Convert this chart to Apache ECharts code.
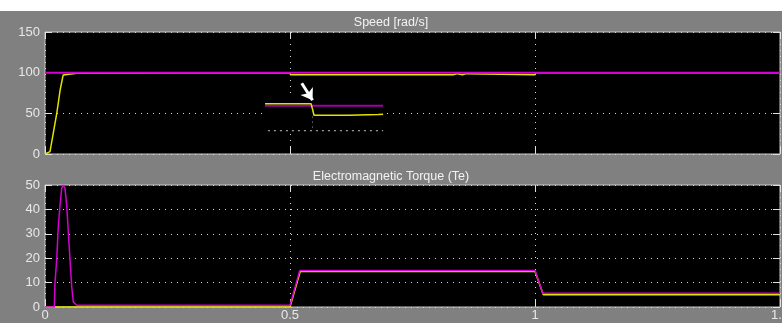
<!DOCTYPE html>
<html>
<head>
<meta charset="utf-8">
<script src="https://cdn.jsdelivr.net/npm/echarts@6/dist/echarts.min.js"></script>
<style>
html,body{margin:0;padding:0;background:#fff;}
#c{width:782px;height:323px;}
</style>
</head>
<body>
<div id="c"></div>
<script>
// ---- data ----
var xTicks = [0, 0.5, 1, 1.5];
var speedTitle = 'Speed [rad/s]';
var torqueTitle = 'Electromagnetic Torque (Te)';

// speed (yellow) measured
var speedT = [0, 0.004, 0.0102, 0.017, 0.024, 0.031, 0.037, 0.041, 0.065, 0.068, 0.5, 0.501, 0.833, 0.834, 0.842, 0.843, 0.852, 0.853, 0.86, 0.861, 1.0, 1.001, 1.5];
var speedW = [0, 0.5, 3, 26, 50, 79, 97, 99.2, 99.2, 100, 100, 97.5, 97.5, 98.8, 98.8, 97.5, 97.5, 98.8, 98.8, 97.5, 97.5, 100, 100];
// speed reference (magenta)
var refT = [0, 1.5];
var refW = [100, 100];
// pasted inset inside the speed plot
var insetT = [0.449, 0.543, 0.546, 0.549, 0.56, 0.62, 0.68, 0.69];
var insetW = [61.8, 61.8, 55, 47.6, 47.6, 47.6, 48.5, 49];
var insetRefT = [0.449, 0.69];
var insetRefW = [59.4, 59.4];
var insetGridT = [0.455, 0.69];
var insetGridW = [28.7, 28.7];
var insetVT = [0.546, 0.546];
var insetVW = [46, 28.7];
var insetBox = [[0.443, 70], [0.694, 25.8]];
var arrowFrom = [0.524, 87];
var arrowTo = [0.546, 66];

// torque (magenta)
var teT = [0, 0.019, 0.0204, 0.0239, 0.0271, 0.0306, 0.0341, 0.0373, 0.0408, 0.0443, 0.0476, 0.051, 0.0545, 0.0578, 0.0647, 0.5, 0.52, 1.0, 1.016, 1.5];
var teW = [0, 0, 10, 19.5, 33, 41.7, 48.6, 50, 48.6, 41.7, 30.6, 19.5, 8.3, 2, 0.7, 0.7, 15, 15, 5.6, 5.6];
// torque load (yellow)
var tlT = [0, 0.5, 0.521, 1.0, 1.017, 1.5];
var tlW = [0, 0, 14.6, 14.6, 5.0, 5.0];

function pairs(t, v) { return t.map(function (x, i) { return [x, v[i]]; }); }

var YEL = '#e2e200', MAG = '#d400d4', TXT = '#e8e8e8', FONT = 'Liberation Sans, Arial, sans-serif';
function gridOpt(top) {
  return { show: true, backgroundColor: '#000', borderColor: '#c8c8c8', borderWidth: 1,
    left: 45, right: 2, top: top, height: 122, containLabel: false, outerBoundsMode: 'none' };
}
function split(on) { return { show: on, lineStyle: { color: '#d8d8d8', type: [1, 5], width: 1 } }; }
function tick() { return { show: true, inside: true, length: 7, lineStyle: { color: '#e0e0e0', width: 1 } }; }

function xAx(gi, pos, labels, spl) {
  return { type: 'value', gridIndex: gi, position: pos, min: 0, max: 1.5, interval: 0.5,
    axisLine: { show: false, onZero: false }, axisTick: tick(), splitLine: split(spl),
    axisLabel: { show: labels, inside: false, color: TXT, fontSize: 13, fontFamily: FONT, margin: 2,
      formatter: function (v) { return String(v); } } };
}
function yAx(gi, pos, max, iv, labels, spl) {
  return { type: 'value', gridIndex: gi, position: pos, min: 0, max: max, interval: iv,
    axisLine: { show: false, onZero: false }, axisTick: tick(), splitLine: split(spl),
    axisLabel: { show: labels, inside: false, color: TXT, fontSize: 13, fontFamily: FONT, margin: 5 } };
}

var chart = echarts.init(document.getElementById('c'), null, { renderer: 'canvas' });
chart.setOption({
  animation: false,
  backgroundColor: '#808080',
  graphic: [
    { type: 'rect', left: 0, top: 0, shape: { width: 782, height: 11 }, style: { fill: '#fff' }, z: 100 }
  ],
  title: [
    { text: speedTitle, left: 'center', top: 16, textStyle: { color: '#f2f2f2', fontSize: 12.5, fontWeight: 'normal', fontFamily: FONT }, padding: 0 },
    { text: torqueTitle, left: 'center', top: 170, textStyle: { color: '#f2f2f2', fontSize: 12.5, fontWeight: 'normal', fontFamily: FONT }, padding: 0 }
  ],
  grid: [gridOpt(32), gridOpt(185)],
  xAxis: [xAx(0, 'bottom', false, true), xAx(0, 'top', false, false), xAx(1, 'bottom', true, true), xAx(1, 'top', false, false)],
  yAxis: [yAx(0, 'left', 150, 50, true, true), yAx(0, 'right', 150, 50, false, false),
          yAx(1, 'left', 50, 10, true, true), yAx(1, 'right', 50, 10, false, false)],
  series: [
    { type: 'line', xAxisIndex: 0, yAxisIndex: 0, data: pairs(insetGridT, insetGridW), symbol: 'none',
      lineStyle: { color: '#9a9a9a', width: 1, type: [2, 4] },
      markArea: { silent: true, itemStyle: { color: '#000' },
        data: [[{ coord: insetBox[0] }, { coord: insetBox[1] }]] } },
    { type: 'line', xAxisIndex: 0, yAxisIndex: 0, data: pairs(insetGridT, insetGridW), symbol: 'none',
      lineStyle: { color: '#9a9a9a', width: 1, type: [2, 4] } },
    { type: 'line', xAxisIndex: 0, yAxisIndex: 0, data: pairs(insetVT, insetVW), symbol: 'none',
      lineStyle: { color: '#a0a0a0', width: 1, type: [1, 4] } },
    { type: 'line', xAxisIndex: 0, yAxisIndex: 0, data: pairs(speedT, speedW), symbol: 'none',
      lineStyle: { color: YEL, width: 1.5 } },
    { type: 'line', xAxisIndex: 0, yAxisIndex: 0, data: pairs(refT, refW), symbol: 'none',
      lineStyle: { color: MAG, width: 2 } },
    { type: 'line', xAxisIndex: 0, yAxisIndex: 0, data: pairs(insetRefT, insetRefW), symbol: 'none',
      lineStyle: { color: '#a000a8', width: 2 } },
    { type: 'line', xAxisIndex: 0, yAxisIndex: 0, data: pairs(insetT, insetW), symbol: 'none',
      lineStyle: { color: YEL, width: 1.5 },
      markLine: { silent: true, symbol: ['none', 'arrow'], symbolSize: 11, label: { show: false },
        lineStyle: { color: '#fff', width: 3, type: 'solid' },
        data: [[{ coord: arrowFrom }, { coord: arrowTo }]] } },
    { type: 'line', xAxisIndex: 2, yAxisIndex: 2, data: pairs(tlT, tlW), symbol: 'none',
      lineStyle: { color: YEL, width: 1.5 } },
    { type: 'line', xAxisIndex: 2, yAxisIndex: 2, data: pairs(teT, teW), symbol: 'none',
      lineStyle: { color: MAG, width: 1.5 } }
  ]
});
</script>
</body>
</html>
